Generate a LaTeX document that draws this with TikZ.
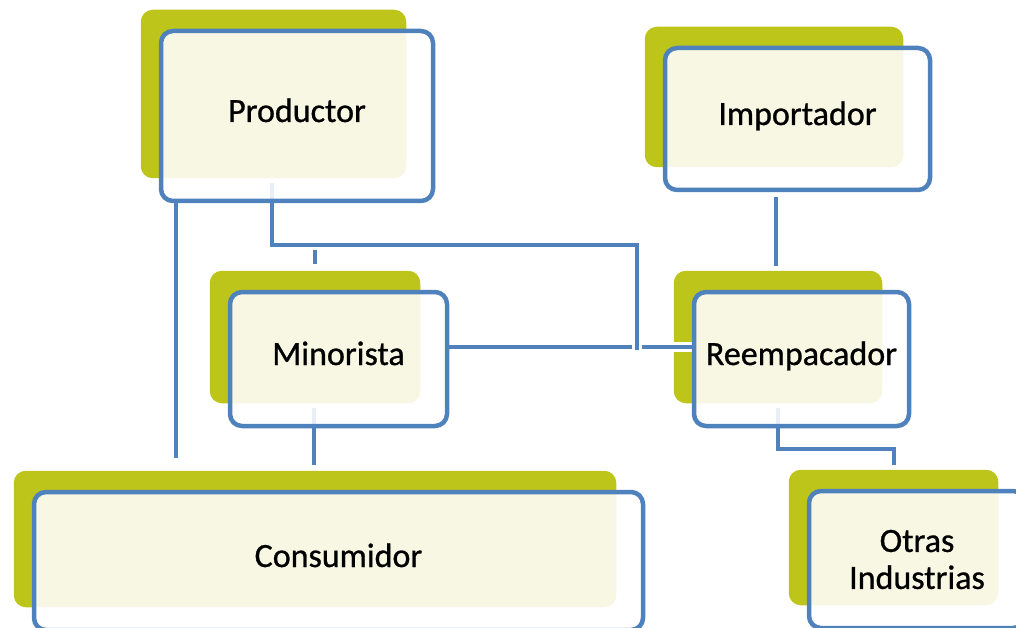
\documentclass[tikz,border=0pt]{standalone}
\usepackage{fontspec}
\setmainfont{Carlito}
\newfontfamily\boxfont{Carlito}[FakeBold=0.8]
\usetikzlibrary{positioning}
\definecolor{boxblue}{RGB}{79,129,189}
\definecolor{boxgreen}{RGB}{190,197,26}
\pgfdeclarelayer{back}
\pgfdeclarelayer{wires}
\pgfsetlayers{back,wires,main}

\begin{document}
\begin{tikzpicture}[x=1pt, y=-1pt,
  every node/.style = {shape=rectangle, rounded corners=12pt,
    draw=boxblue, line width=4.5pt, align=center, inner sep=0pt,
    fill=white, fill opacity=0.88, text opacity=1,
    font=\boxfont\fontsize{34}{37}\selectfont},
  oneline/.style = {text height=24pt, text depth=12pt},
  wire/.style = {draw=boxblue, line width=4.5pt,
    preaction={draw=white, line width=10pt}},
  back/.style = {fill=boxgreen, rounded corners=12pt}]
  \useasboundingbox (0,0) rectangle (1016,628);

  \node[oneline, minimum width=272pt, minimum height=170pt] (prod)  at (297,116)   {Productor};
  \node[oneline, minimum width=265pt, minimum height=142pt] (imp)   at (797.5,119) {Importador};
  \node[oneline, minimum width=217pt, minimum height=134pt] (min)   at (338.5,359) {Minorista};
  \node[oneline, minimum width=215pt, minimum height=134pt] (reemp) at (801.5,359) {Reempacador};
  \node[oneline, minimum width=609pt, minimum height=138pt] (cons)  at (338.5,561) {Consumidor};
  \node[minimum width=216pt, minimum height=137pt] (otras) at (917,559.5) {Otras\\Industrias};

  \begin{pgfonlayer}{back}
    \foreach \n in {prod,imp,min,reemp,cons,otras}
      \fill[back] ([shift={(-18,-19)}]\n.north west) rectangle ([shift={(-29,-25)}]\n.south east);
  \end{pgfonlayer}

  \coordinate (pc)    at (176,458);
  \coordinate (mc)    at (314,465);
  \coordinate (split) at (272,245);
  \coordinate (mtop)  at (315,264);
  \coordinate (cross) at (637,347);
  \coordinate (ir)    at (776,266);
  \coordinate (ro)    at (778,449);
  \coordinate (oi)    at (894,465);

  \begin{pgfonlayer}{wires}
    \draw[wire] (min.east |- cross) -- (reemp.west |- cross);
    \draw[wire] (prod.south -| pc) -- (pc);
    \draw[wire] (split -| mtop) -- (mtop);
    \draw[wire] (prod.south -| split) ++(0,-20) -- (split) -- (split -| cross) -- ([yshift=-3pt]cross);
    \draw[wire] (min.south -| mc) ++(0,-20) -- (mc);
    \draw[wire] (imp.south -| ir) ++(0,5) -- (ir);
    \draw[wire] (reemp.south -| ro) ++(0,-20) -- (ro) -- (ro -| oi) -- (oi);
  \end{pgfonlayer}
\end{tikzpicture}
\end{document}
